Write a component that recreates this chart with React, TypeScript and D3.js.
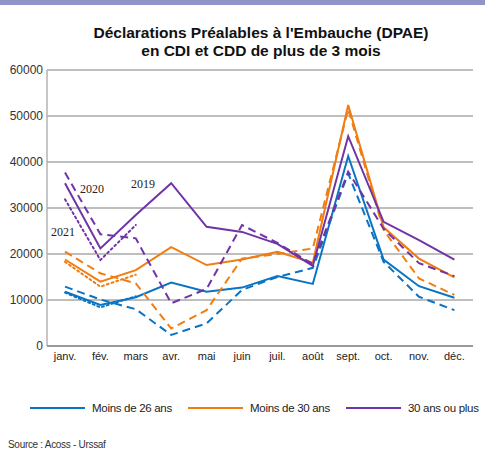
import React from "react";
import * as d3 from "d3";

const months = ["janv.", "fév.", "mars", "avr.", "mai", "juin", "juil.", "août", "sept.", "oct.", "nov.", "déc."];
const yTicks = [0, 10000, 20000, 30000, 40000, 50000, 60000];

// Moins de 26 ans
const blue2019 = [11800, 8900, 10600, 13800, 11800, 12700, 15200, 13500, 41300, 18800, 13000, 10500];
const blue2020 = [12900, 10100, 8000, 2400, 4900, 12200, 15000, 17000, 37500, 18300, 10700, 7800];
const blue2021 = [11600, 8400, 10800];
// Moins de 30 ans
const orange2019 = [18800, 14000, 16500, 21500, 17600, 18800, 20500, 18100, 52400, 25800, 19000, 14900];
const orange2020 = [20500, 15800, 13600, 3800, 7800, 19000, 20000, 21200, 51500, 25200, 14700, 11100];
const orange2021 = [18300, 12900, 15500];
// 30 ans ou plus
const purple2019 = [35400, 21200, 28500, 35400, 25900, 24800, 22200, 17400, 45600, 27000, 23000, 18800];
const purple2020 = [37700, 24300, 23400, 9300, 12400, 26300, 22400, 17800, 37900, 25500, 18000, 15200];
const purple2021 = [31900, 18700, 26300];

const BLUE = "#0a74c4";
const ORANGE = "#f07d12";
const PURPLE = "#7134a6";

const series = [
  { values: blue2019, color: BLUE, dash: null },
  { values: blue2020, color: BLUE, dash: "8,5" },
  { values: blue2021, color: BLUE, dash: "2,3" },
  { values: orange2019, color: ORANGE, dash: null },
  { values: orange2020, color: ORANGE, dash: "8,5" },
  { values: orange2021, color: ORANGE, dash: "2,3" },
  { values: purple2019, color: PURPLE, dash: null },
  { values: purple2020, color: PURPLE, dash: "8,5" },
  { values: purple2021, color: PURPLE, dash: "2,3" },
];

const legend = [
  { label: "Moins de 26 ans", color: BLUE },
  { label: "Moins de 30 ans", color: ORANGE },
  { label: "30 ans ou plus", color: PURPLE },
];

export default function App() {
  const W = 485, H = 450;
  const x = d3.scaleBand<string>().domain(months).range([47.3, 472.1]);
  const y = d3.scaleLinear().domain([0, 60000]).range([346, 70]);
  const cx = (i: number) => (x(months[i]) as number) + x.bandwidth() / 2;
  const line = d3.line<number>().x((_, i) => cx(i)).y((d) => y(d));
  const sans = "'Liberation Sans', Arial, sans-serif";

  return (
    <svg width={W} height={H} style={{ position: "absolute", left: 0, top: 0, background: "#fff" }}>
      <rect x={0} y={0} width={W} height={5} fill="#9094c6" />
      <g fontFamily={sans} fontWeight="bold" fontSize={15.5} fill="#111" textAnchor="middle">
        <text x={261} y={38}>Déclarations Préalables à l'Embauche (DPAE)</text>
        <text x={261} y={56}>en CDI et CDD de plus de 3 mois</text>
      </g>

      {yTicks.map((t) => (
        <g key={t}>
          {t > 0 && <line x1={47} x2={473} y1={y(t)} y2={y(t)} stroke="#a8a8a8" strokeWidth={1.3} />}
          <text x={43} y={y(t) + 4} textAnchor="end" fontFamily={sans} fontSize={12} fill="#333">{t}</text>
        </g>
      ))}
      <line x1={47} x2={47} y1={70} y2={346} stroke="#a8a8a8" strokeWidth={1.3} />
      <line x1={47} x2={473} y1={346} y2={346} stroke="#999" strokeWidth={2} />

      {months.map((m, i) => (
        <text key={m} x={cx(i)} y={360} textAnchor="middle" fontFamily={sans} fontSize={11} fill="#222">{m}</text>
      ))}

      {series.map((s, k) => (
        <path key={k} d={line(s.values) as string} fill="none" stroke={s.color} strokeWidth={2}
          strokeDasharray={s.dash ?? undefined} strokeLinecap={s.dash === "2,3" ? "round" : "butt"} />
      ))}

      <g fontFamily="'Liberation Serif', serif" fontSize={12} fill="#222">
        <text x={80} y={193}>2020</text>
        <text x={131} y={188}>2019</text>
        <text x={51} y={236}>2021</text>
      </g>

      {legend.map((l, i) => {
        const lx = [30, 188, 346][i];
        return (
          <g key={l.label}>
            <line x1={lx} x2={lx + 55} y1={408} y2={408} stroke={l.color} strokeWidth={2} />
            <text x={lx + 62} y={412} fontFamily={sans} fontSize={11.5} letterSpacing={-0.3} fill="#222">{l.label}</text>
          </g>
        );
      })}
      <text x={8} y={448} fontFamily={sans} fontSize={10} letterSpacing={-0.3} fill="#333">Source : Acoss - Urssaf</text>
    </svg>
  );
}
